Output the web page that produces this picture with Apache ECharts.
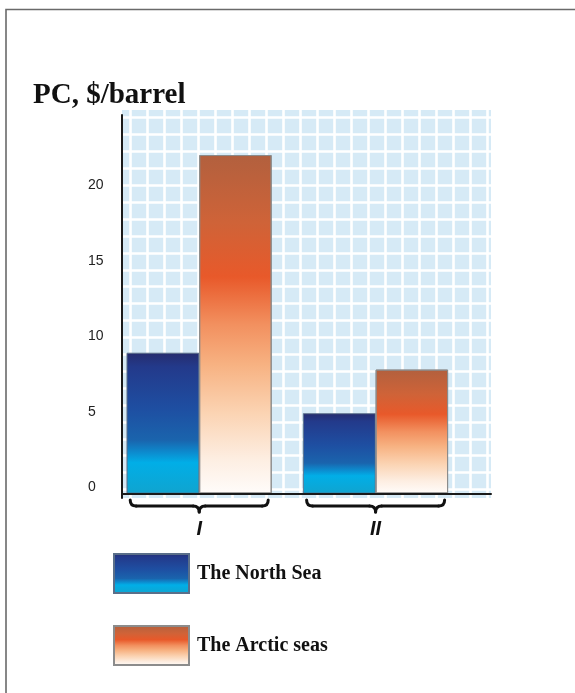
<!DOCTYPE html>
<html>
<head>
<meta charset="utf-8">
<script src="https://cdn.jsdelivr.net/npm/echarts@6/dist/echarts.min.js"></script>
<style>
  html, body { margin: 0; padding: 0; background: #ffffff; }
  #chart { width: 575px; height: 693px; }
</style>
</head>
<body>
<div id="chart"></div>
<script>
// Production cost by field group, $/barrel
const categories = ['I', 'II'];
const seriesNames = ['The North Sea', 'The Arctic seas'];
const northSea = [9.3, 5.3];
const arcticSeas = [22.4, 8.2];
const yTickLabels = [0, 5, 10, 15, 20];
const titleText = 'PC, $/barrel';

const yMin = -0.3;
const yMax = 25.05;

const chart = echarts.init(document.getElementById('chart'), null, { renderer: 'canvas' });

const blueGrad = new echarts.graphic.LinearGradient(0, 0, 0, 1, [
  { offset: 0, color: '#262c6e' },
  { offset: 0.1, color: '#233a8b' },
  { offset: 0.4, color: '#1e4fa2' },
  { offset: 0.62, color: '#1a64ad' },
  { offset: 0.71, color: '#0c8ccf' },
  { offset: 0.78, color: '#01aee7' },
  { offset: 1, color: '#10a4cf' }
]);
const orangeGrad = new echarts.graphic.LinearGradient(0, 0, 0, 1, [
  { offset: 0, color: '#b2603e' },
  { offset: 0.2, color: '#cf6338' },
  { offset: 0.36, color: '#e8592a' },
  { offset: 0.5, color: '#f2905f' },
  { offset: 0.62, color: '#f7b282' },
  { offset: 0.76, color: '#fbd3b2' },
  { offset: 0.9, color: '#fdeee2' },
  { offset: 1, color: '#fffcfa' }
]);

const hiddenAxis = (extra) => Object.assign({ show: false }, extra);

const option = {
  backgroundColor: '#ffffff',
  animation: false,
  title: {
    text: titleText,
    left: 33,
    top: 81,
    padding: 0,
    textStyle: {
      fontFamily: 'Liberation Serif',
      fontWeight: 'bold',
      fontSize: 29,
      color: '#111111'
    }
  },
  legend: {
    data: seriesNames,
    orient: 'vertical',
    left: 113,
    top: 553,
    padding: 0,
    itemWidth: 75,
    itemHeight: 39,
    itemGap: 31,
    icon: 'rect',
    textStyle: {
      fontFamily: 'Liberation Serif',
      fontWeight: 'bold',
      fontSize: 20,
      color: '#111111',
      padding: [0, 0, 0, 3]
    }
  },
  grid: [
    // light blue plot background
    { left: 122, top: 110, width: 369, height: 388, show: true, backgroundColor: '#d6eaf6', borderWidth: 0, z: 0 },
    // white lattice over the background
    { left: 113.7, top: 110, width: 377.3, height: 396.4, z: 1 },
    // axis lines and value labels
    { left: 122, top: 115, width: 369, height: 383 },
    // bars
    { left: 111, top: 115, width: 352.8, height: 383 }
  ],
  xAxis: [
    hiddenAxis({ gridIndex: 0, type: 'value', min: 0, max: 1 }),
    {
      gridIndex: 1, type: 'value', min: 0, max: 377.3, interval: 17, z: 1,
      axisLine: { show: false }, axisTick: { show: false }, axisLabel: { show: false },
      splitLine: { show: true, showMaxLine: false, lineStyle: { color: '#ffffff', width: 2.6 } }
    },
    {
      gridIndex: 2, type: 'value', min: 0, max: 1, z: 5,
      axisLine: { show: true, lineStyle: { color: '#1a1a1a', width: 2 } },
      axisTick: { show: false }, axisLabel: { show: false }, splitLine: { show: false }
    },
    {
      gridIndex: 3, type: 'category', data: categories, z: 5,
      axisLine: { show: false }, axisTick: { show: false }, splitLine: { show: false },
      axisLabel: {
        margin: 21,
        fontFamily: 'Liberation Sans',
        fontStyle: 'italic',
        fontWeight: 'bold',
        fontSize: 20,
        color: '#111111'
      }
    }
  ],
  yAxis: [
    hiddenAxis({ gridIndex: 0, type: 'value', min: 0, max: 1 }),
    {
      gridIndex: 1, type: 'value', min: 0, max: 396.4, interval: 16.9, z: 1,
      axisLine: { show: false }, axisTick: { show: false }, axisLabel: { show: false },
      splitLine: { show: true, showMaxLine: false, lineStyle: { color: '#ffffff', width: 2.6 } }
    },
    {
      gridIndex: 2, type: 'value', min: yMin, max: yMax, z: 5,
      axisLine: { show: true, lineStyle: { color: '#1a1a1a', width: 2 } },
      axisTick: { show: false }, splitLine: { show: false },
      axisLabel: {
        customValues: yTickLabels,
        align: 'left',
        verticalAlign: 'bottom',
        lineHeight: 12,
        margin: 34,
        fontFamily: 'Liberation Sans',
        fontSize: 14,
        color: '#222222'
      }
    },
    hiddenAxis({ gridIndex: 3, type: 'value', min: yMin, max: yMax })
  ],
  series: [
    {
      name: seriesNames[0],
      type: 'bar',
      xAxisIndex: 3,
      yAxisIndex: 3,
      data: northSea,
      barWidth: 72.5,
      barGap: '0%',
      z: 3,
      itemStyle: { color: blueGrad, borderColor: '#5a6f8a', borderWidth: 0.6 }
    },
    {
      name: seriesNames[1],
      type: 'bar',
      xAxisIndex: 3,
      yAxisIndex: 3,
      data: arcticSeas,
      barWidth: 72.5,
      barGap: '0%',
      z: 3,
      itemStyle: { color: orangeGrad, borderColor: '#8c8c8c', borderWidth: 1 }
    }
  ]
};

chart.setOption(option);

// Curly braces under each group, plus the page frame
const braceStyle = { fill: 'none', stroke: '#111111', lineWidth: 3, lineCap: 'round' };
const graphics = [
  {
    type: 'rect',
    shape: { x: 6, y: 9.5, width: 620, height: 720 },
    style: { fill: 'none', stroke: '#6a6a6a', lineWidth: 1.6 },
    z: 20
  }
];
const braceTop = 500;
const braceMid = 506;
const braceTip = 512;
categories.forEach((c) => {
  const cx = chart.convertToPixel({ xAxisIndex: 3 }, c);
  const hw = 69;
  const curve = (x1, y1, cpx, cpy, x2, y2) => ({
    type: 'bezierCurve',
    shape: { x1: x1, y1: y1, cpx1: cpx, cpy1: cpy, x2: x2, y2: y2 },
    style: braceStyle,
    z: 20
  });
  const seg = (x1, y1, x2, y2) => ({
    type: 'line',
    shape: { x1: x1, y1: y1, x2: x2, y2: y2 },
    style: braceStyle,
    z: 20
  });
  graphics.push(
    curve(cx - hw, braceTop, cx - hw, braceMid, cx - hw + 6, braceMid),
    seg(cx - hw + 6, braceMid, cx - 6, braceMid),
    curve(cx - 6, braceMid, cx, braceMid, cx, braceTip),
    curve(cx, braceTip, cx, braceMid, cx + 6, braceMid),
    seg(cx + 6, braceMid, cx + hw - 6, braceMid),
    curve(cx + hw - 6, braceMid, cx + hw, braceMid, cx + hw, braceTop)
  );
});
chart.setOption({ graphic: graphics });
</script>
</body>
</html>
